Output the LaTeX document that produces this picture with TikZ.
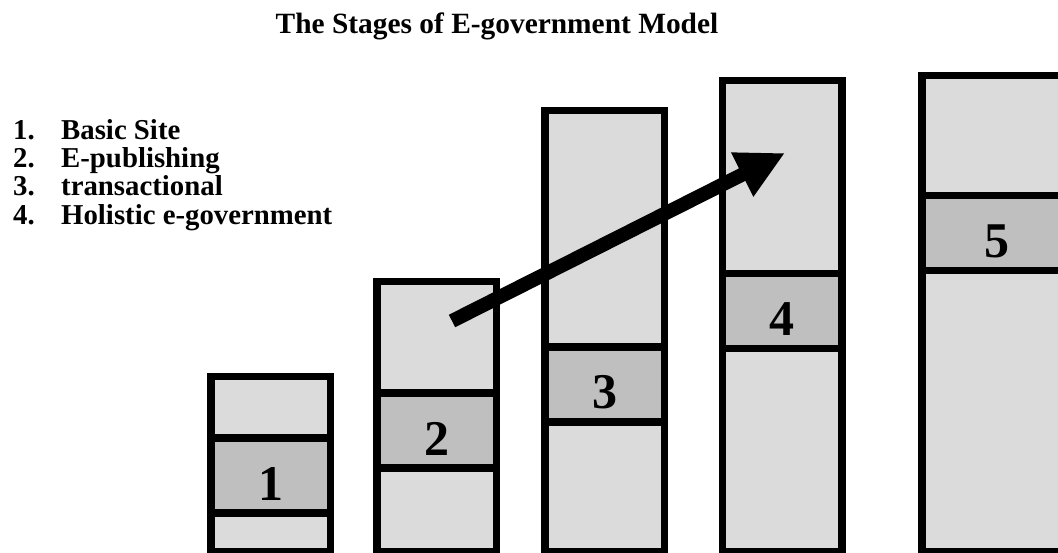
\documentclass[tikz,border=0pt]{standalone}
\usepackage{fontspec}
\setmainfont{Liberation Serif}
\usetikzlibrary{arrows.meta,positioning}

\definecolor{barfill}{gray}{0.86}
\definecolor{bandfill}{gray}{0.75}

\begin{document}
\begin{tikzpicture}[x=1pt, y=-1pt,
  bar/.style={draw, line width=7.5pt, fill=barfill, minimum width=119.5pt, anchor=north, inner sep=0pt},
  band/.style={draw, line width=7.5pt, fill=bandfill, minimum width=119.5pt, minimum height=75pt, inner sep=0pt},
  num/.style={font=\fontsize{50}{60}\selectfont\bfseries, inner sep=0pt},
  item/.style={font=\fontsize{28.8}{34}\selectfont\bfseries, text height=21pt, text depth=7pt, inner sep=0pt}]
\useasboundingbox[fill=white] (0,0) rectangle (1058,553);

\node[font=\fontsize{29.4}{35}\selectfont\bfseries, anchor=base] (title) at (497,34) {The Stages of E-government Model};

\node[item, anchor=north west]                                  (item1) at (13,118) {\makebox[48pt][l]{1.}Basic Site};
\node[item, below=0pt of item1.south west, anchor=north west]   (item2) {\makebox[48pt][l]{2.}E-publishing};
\node[item, below=0pt of item2.south west, anchor=north west]   (item3) {\makebox[48pt][l]{3.}transactional};
\node[item, below=0pt of item3.south west, anchor=north west]   (item4) {\makebox[48pt][l]{4.}Holistic e-government};

% the five columns, all standing on the bottom edge
\node[bar, minimum height=175.25pt]                  (bar1) at (270.5,373) {};
\node[bar, minimum height=270.25pt]                  (bar2) at (436.5,278) {};
\node[bar, minimum height=441.25pt]                  (bar3) at (604.5,107) {};
\node[bar, minimum height=471.25pt]                  (bar4) at (782,77)    {};
\node[bar, minimum height=476.25pt, minimum width=150.5pt] (bar5) at (997,72) {};

% the darker band with the stage number
\node[band] (band1) at (270.5,475.5) {};
\node[band] (band2) at (436.5,430.5) {};
\node[band] (band3) at (604.5,384.5) {};
\node[band] (band4) at (782,311)     {};
\node[band, minimum width=150.5pt] (band5) at (997,233) {};

\node[num] (num1) at ([yshift=-8pt]band1.center) {1};
\node[num] (num2) at ([yshift=-8pt]band2.center) {2};
\node[num] (num3) at ([yshift=-8pt]band3.center) {3};
\node[num] (num4) at ([yshift=-8pt]band4.center) {4};
\node[num] (num5) at ([yshift=-8pt]band5.center) {5};

\coordinate (start) at (452,321);
\coordinate (tip)   at (785,153);
\draw[line width=14pt, -{Triangle[width=46pt, length=48pt]}] (start) -- (tip);
\end{tikzpicture}
\end{document}
